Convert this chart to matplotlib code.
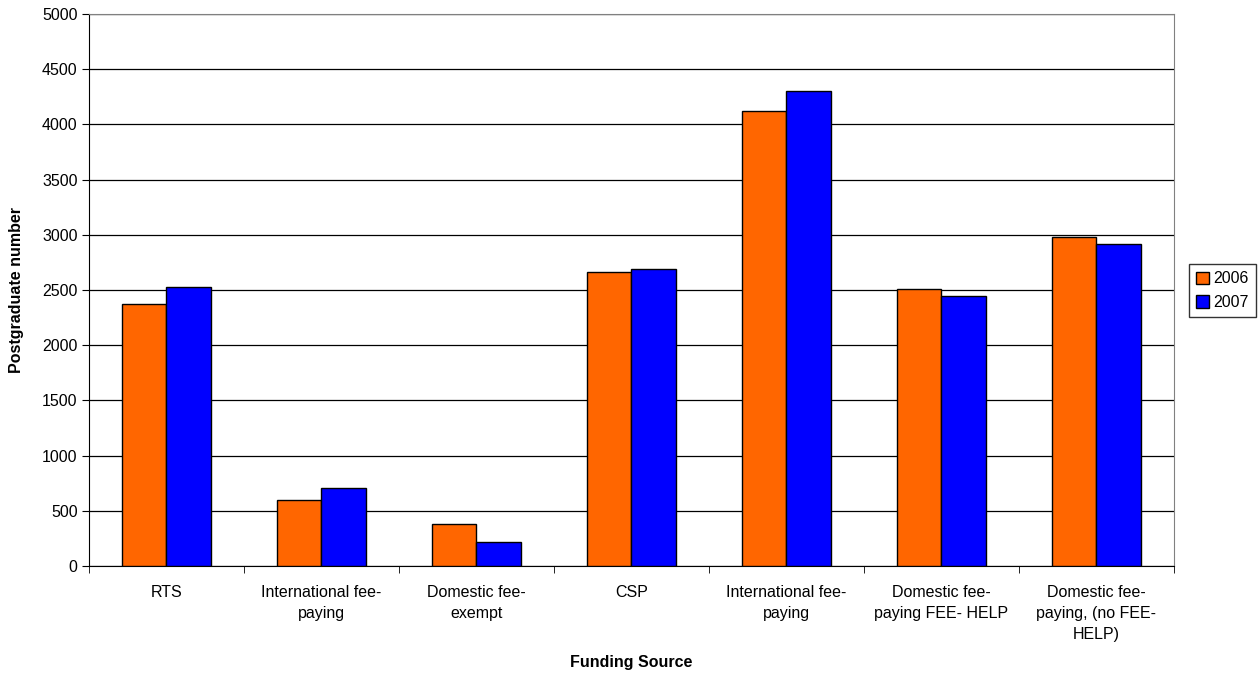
import numpy as np
import matplotlib.pyplot as plt
from matplotlib.patches import Patch

# data
categories = [
    "RTS",
    "International fee-\npaying",
    "Domestic fee-\nexempt",
    "CSP",
    "International fee-\npaying",
    "Domestic fee-\npaying FEE- HELP",
    "Domestic fee-\npaying, (no FEE-\nHELP)",
]
years = ["2006", "2007"]
values_2006 = [2370, 598, 380, 2660, 4121, 2509, 2977]
values_2007 = [2525, 708, 215, 2690, 4303, 2443, 2919]
colors = ["#FF6600", "#0000FF"]

plt.rcParams['font.family'] = ['Liberation Sans', 'DejaVu Sans']
FS = 11.5

fig = plt.figure(figsize=(12.59, 6.77), dpi=100)
W, H = 1259, 677
left, right, top, bottom = 88.7, 1174, 14, 566
ax = fig.add_axes([left / W, 1 - bottom / H, (right - left) / W, (bottom - top) / H])

x = np.arange(len(categories))
bw = 1 / 3.5  # Excel-like gap width 150%
ax.bar(x - bw / 2, values_2006, bw, color=colors[0], edgecolor="black", linewidth=1, zorder=3)
ax.bar(x + bw / 2, values_2007, bw, color=colors[1], edgecolor="black", linewidth=1, zorder=3)

ax.set_xlim(-0.5, len(categories) - 0.5)
ax.set_ylim(0, 5000)
ax.set_yticks(np.arange(0, 5001, 500))
ax.yaxis.grid(True, color="black", linewidth=0.9, zorder=0)
ax.set_axisbelow(True)

ax.set_xticks(x)
ax.set_xticklabels(categories, fontsize=FS, linespacing=1.5)
ax.set_xticks(np.arange(-0.5, len(categories)), minor=True)
ax.tick_params(axis="x", which="major", length=0, pad=14)
ax.tick_params(axis="x", which="minor", length=5, color="black")
ax.tick_params(axis="y", length=5, labelsize=FS, pad=3)

for s in ["top", "right"]:
    ax.spines[s].set_color("#808080")
for s in ["left", "bottom"]:
    ax.spines[s].set_color("black")

fig.text(17 / W, 1 - 290 / H, "Postgraduate number", rotation=90, fontsize=FS,
         fontweight="bold", ha="center", va="center")
fig.text((left + right) / 2 / W, 1 - 662 / H, "Funding Source", fontsize=FS,
         fontweight="bold", ha="center", va="center")

handles = [Patch(facecolor=c, edgecolor="black", label=y) for c, y in zip(colors, years)]
leg = fig.legend(handles=handles, loc="upper left", bbox_to_anchor=(1189 / W, 1 - 264 / H),
                 fontsize=FS, frameon=True, fancybox=False, handlelength=0.8, handleheight=0.8,
                 handletextpad=0.25, borderpad=0.45, labelspacing=0.55, borderaxespad=0)
leg.get_frame().set_edgecolor("black")
leg.get_frame().set_linewidth(1)

fig.savefig("out.png", dpi=100)
